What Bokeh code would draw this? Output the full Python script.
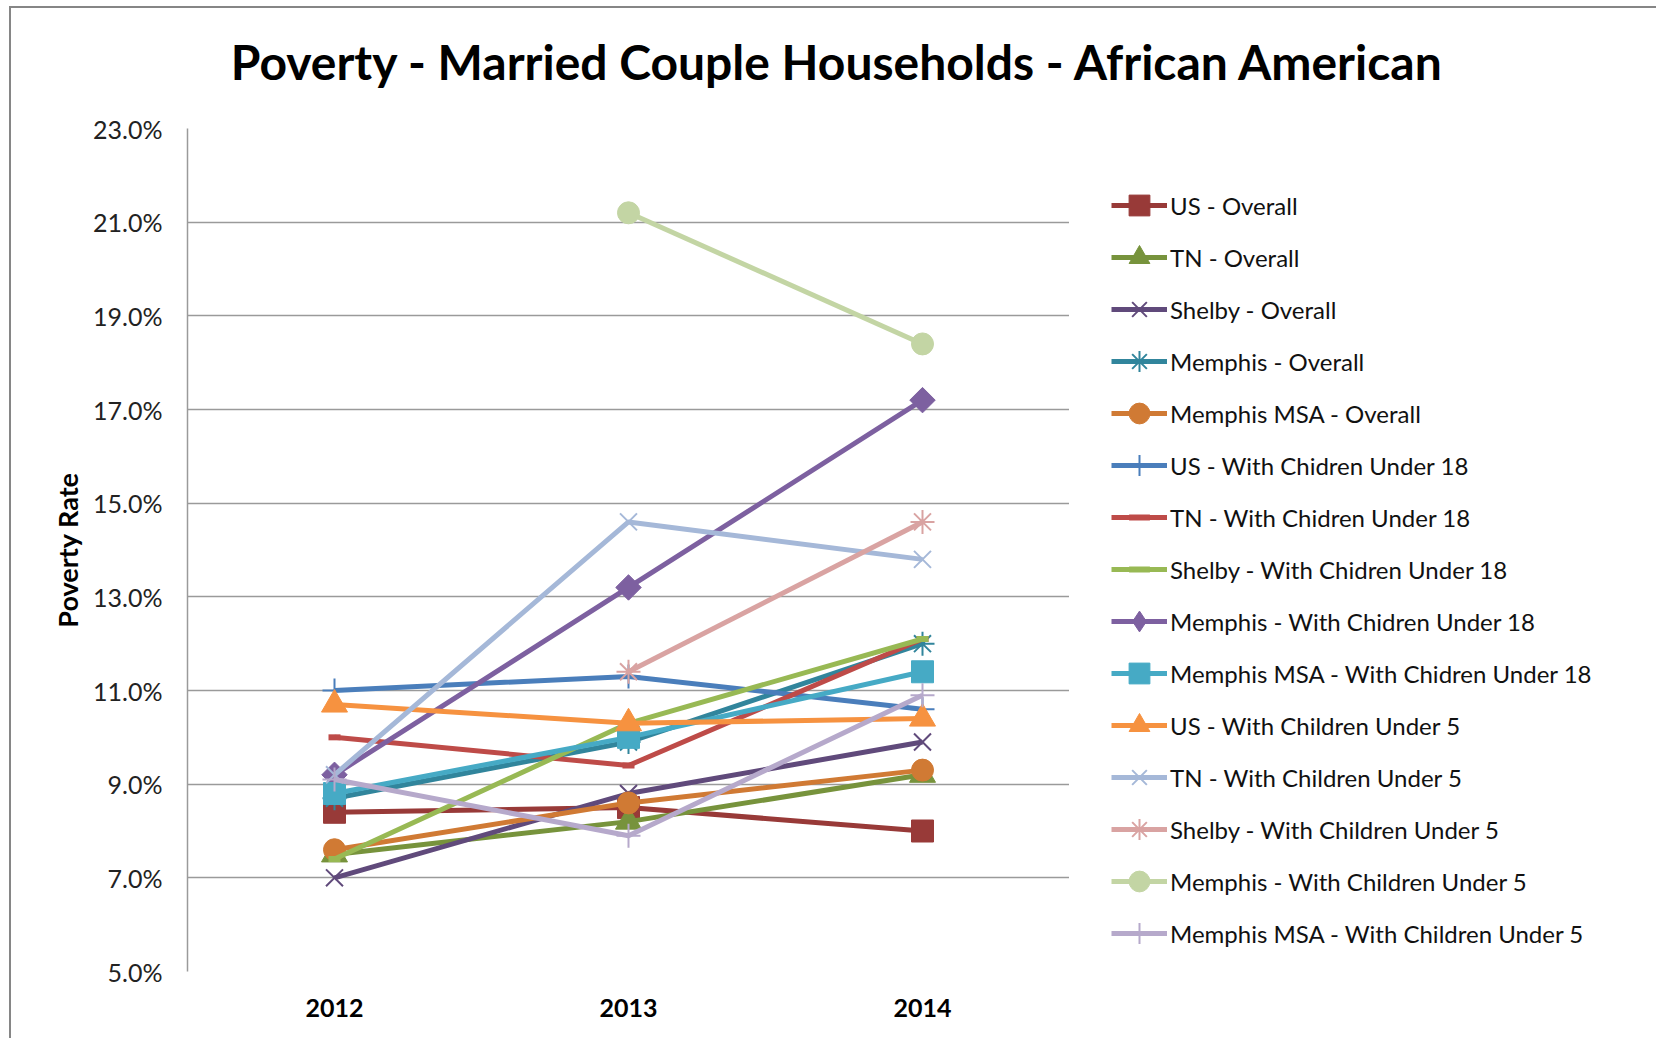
import math
from bokeh.plotting import figure
from bokeh.layouts import column, row
from bokeh.models import (FactorRange, Range1d, FixedTicker, NumeralTickFormatter,
                          Legend, LegendItem, Label, ColumnDataSource)
from bokeh.embed import file_html
from bokeh.resources import INLINE

nan = float("nan")

title_text = "Poverty - Married Couple Households - African American"
years = ["2012", "2013", "2014"]
y_ticks_pct = [5, 7, 9, 11, 13, 15, 17, 19, 21, 23]

series_names = [
    "US - Overall",
    "TN - Overall",
    "Shelby - Overall",
    "Memphis - Overall",
    "Memphis MSA - Overall",
    "US - With Chidren Under 18",
    "TN - With Chidren Under 18",
    "Shelby - With Chidren Under 18",
    "Memphis - With Chidren Under 18",
    "Memphis MSA - With Chidren Under 18",
    "US - With Children Under 5",
    "TN - With Children Under 5",
    "Shelby - With Children Under 5",
    "Memphis - With Children Under 5",
    "Memphis MSA - With Children Under 5",
]

# poverty rates, percent
us_overall = [8.4, 8.5, 8.0]
tn_overall = [7.5, 8.2, 9.2]
shelby_overall = [7.0, 8.8, 9.9]
memphis_overall = [8.7, 9.9, 12.0]
msa_overall = [7.6, 8.6, 9.3]
us_u18 = [11.0, 11.3, 10.6]
tn_u18 = [10.0, 9.4, 12.1]
shelby_u18 = [7.4, 10.3, 12.1]
memphis_u18 = [9.2, 13.2, 17.2]
msa_u18 = [8.8, 10.0, 11.4]
us_u5 = [10.7, 10.3, 10.4]
tn_u5 = [9.2, 14.6, 13.8]
shelby_u5 = [nan, 11.4, 14.6]
memphis_u5 = [nan, 21.2, 18.4]
msa_u5 = [9.1, 7.9, 10.9]

series_values = [us_overall, tn_overall, shelby_overall, memphis_overall, msa_overall,
                 us_u18, tn_u18, shelby_u18, memphis_u18, msa_u18,
                 us_u5, tn_u5, shelby_u5, memphis_u5, msa_u5]

colors = ["#983A38", "#77933C", "#604A7B", "#31859C", "#D07A34",
          "#4A7EBB", "#BE4B48", "#98B954", "#7D60A0", "#46AAC5",
          "#F69240", "#A5B8D8", "#D9A3A2", "#C3D5A4", "#B6A9CB"]
markers = ["square", "triangle", "x", "asterisk", "circle",
           "cross", "dash", "dash", "diamond", "square",
           "triangle", "x", "asterisk", "circle", "cross"]

FONT = "Lato"

# layout sizes (px, relative to the bordered chart box)
W, H = 1645, 1030
T = 100                 # title strip height
WM = 1058               # main figure width (frame right edge)
HM = H - T
ML, MT, MB = 176, 20, 67


def blank_fig(w, h):
    f = figure(width=w, height=h, x_range=Range1d(0, 1), y_range=Range1d(0, 1),
               x_axis_type=None, y_axis_type=None,
               output_backend="svg", toolbar_location=None,
               min_border_left=0, min_border_right=0, min_border_top=0, min_border_bottom=0,
               background_fill_color="white", border_fill_color="white")
    f.outline_line_color = None
    f.grid.visible = False
    return f


# ---- title strip
tf = blank_fig(W, T)
tf.add_layout(Label(x=827, y=T - 53, x_units="screen", y_units="screen",
                    text=title_text, text_align="center", text_baseline="alphabetic",
                    text_font=FONT, text_font_style="bold", text_font_size="48px",
                    text_color="black"))

# ---- main chart
p = figure(
    x_range=FactorRange(*years, range_padding=0),
    y_range=Range1d(0.05, 0.23),
    width=WM, height=HM,
    output_backend="svg", toolbar_location=None,
    min_border_left=ML, min_border_right=0,
    min_border_top=MT, min_border_bottom=MB,
    background_fill_color="white", border_fill_color="white",
)
p.outline_line_color = None

p.yaxis.ticker = FixedTicker(ticks=[v / 100 for v in y_ticks_pct])
p.yaxis.formatter = NumeralTickFormatter(format="0.0%")
p.yaxis.major_label_text_font = FONT
p.yaxis.major_label_text_font_size = "25px"
p.yaxis.major_label_text_color = "#222222"
p.yaxis.major_label_standoff = 19
p.yaxis.major_tick_line_color = None
p.yaxis.minor_tick_line_color = None
p.yaxis.axis_line_color = "#9a9a9a"
p.yaxis.axis_line_width = 1.5
p.yaxis.axis_label = "Poverty Rate"
p.yaxis.axis_label_text_font = FONT
p.yaxis.axis_label_text_font_style = "bold"
p.yaxis.axis_label_text_font_size = "27px"
p.yaxis.axis_label_standoff = 6
p.yaxis.axis_label_text_color = "black"

p.xaxis.major_label_text_font = FONT
p.xaxis.major_label_text_font_style = "bold"
p.xaxis.major_label_text_font_size = "25px"
p.xaxis.major_label_text_color = "black"
p.xaxis.major_label_standoff = 21
p.xaxis.major_tick_line_color = None
p.xaxis.minor_tick_line_color = None
p.xaxis.axis_line_color = None

p.xgrid.grid_line_color = None
p.ygrid.grid_line_color = "#9a9a9a"
p.ygrid.grid_line_width = 1.5

# ---- legend strip
lf = blank_fig(W - WM, HM)


def add_series(fig, xs, ys, col, mk, swatch=False):
    src = ColumnDataSource(data=dict(x=xs, y=ys))
    ln = fig.line("x", "y", source=src, line_color=col, line_width=5)
    if mk in ("x", "asterisk", "cross"):
        sc = fig.scatter("x", "y", source=src, marker=mk, size=24,
                         line_color=col, line_width=2, fill_color=None)
    elif mk == "dash":
        sc = fig.scatter("x", "y", source=src, marker=mk, size=12,
                         line_color=col, line_width=6)
    elif mk == "diamond" and swatch:
        sc = fig.scatter("x", "y", source=src, marker="diamond", size=28,
                         line_color=col, fill_color=col, line_width=1)
    elif mk == "diamond":
        sc = fig.scatter("x", "y", source=src, marker="square", size=18,
                         angle=math.pi / 4, line_color=col, fill_color=col, line_width=1)
    else:
        sz = {"square": 22, "circle": 22, "triangle": 26}[mk]
        sc = fig.scatter("x", "y", source=src, marker=mk, size=sz,
                         line_color=col, fill_color=col, line_width=1)
    return ln, sc


items = []
for name, vals, col, mk in zip(series_names, series_values, colors, markers):
    add_series(p, years, [v / 100 for v in vals], col, mk)
    # legend swatch renderers (kept outside the blank strip's visible range)
    ln, sc = add_series(lf, [-5.0, -4.0], [-5.0, -5.0], col, mk, swatch=True)
    items.append(LegendItem(label=name, renderers=[ln, sc]))

legend = Legend(items=items, location=(42, 12),
                label_text_font=FONT, label_text_font_size="24px",
                label_text_color="#111111",
                glyph_width=56, glyph_height=52, label_height=52,
                spacing=0, padding=0, margin=0, label_standoff=3,
                border_line_color=None, background_fill_alpha=0)
lf.add_layout(legend)

layout = column(tf, row(p, lf, spacing=0), spacing=0)
layout.margin = (6, 0, 0, 9)
layout.styles = {"border-left": "2px solid #868686", "border-top": "2px solid #868686"}

open("out.html", "w").write(file_html(layout, INLINE))
